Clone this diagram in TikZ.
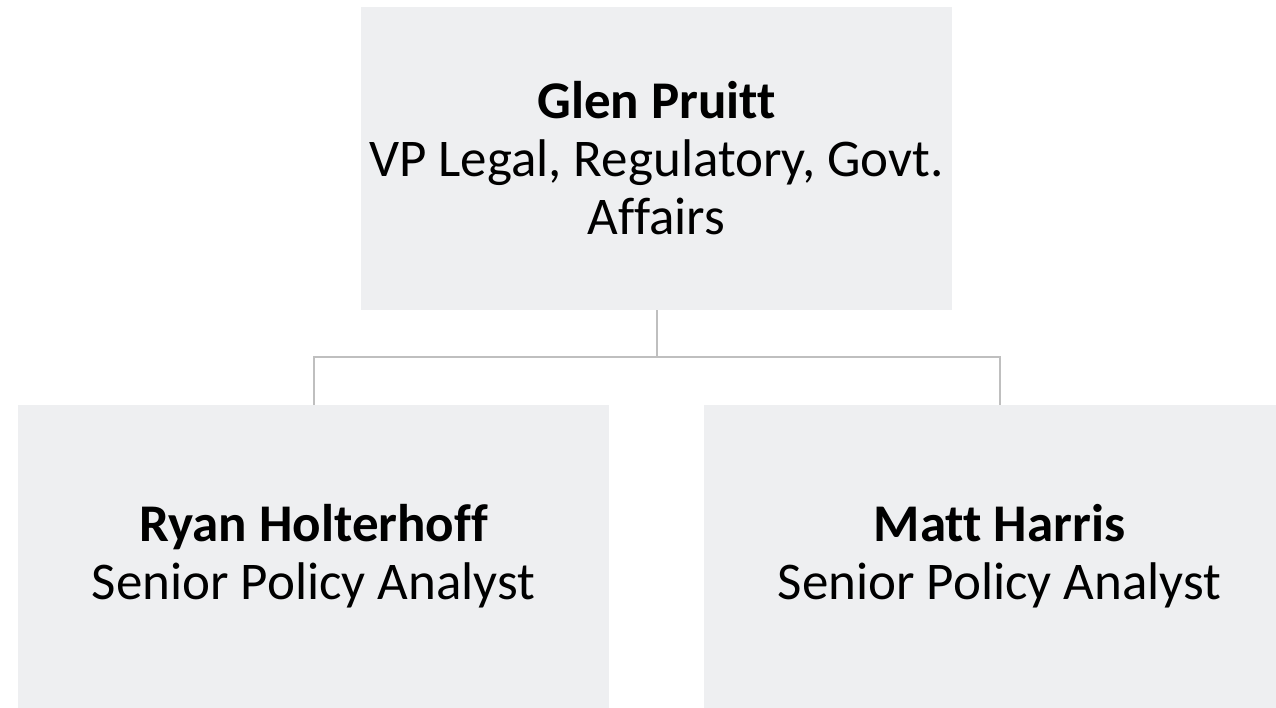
\documentclass[tikz,border=0pt]{standalone}
\usepackage{fontspec}
\setmainfont{Carlito}[Ligatures=NoCommon]
\usetikzlibrary{positioning}

\begin{document}
\begin{tikzpicture}[
		x=1pt,y=1pt,
		node distance=95pt and 95pt,
		person/.style={fill=boxgray,minimum width=591pt,minimum height=303pt,align=center,
			font=\fontsize{53pt}{58pt}\selectfont,inner sep=0pt},
		link/.style={draw=linegray,line width=2pt}
		]
		\definecolor{boxgray}{HTML}{EEEFF1}
		\definecolor{linegray}{HTML}{BFBFBF}
		\useasboundingbox (0,0) rectangle (1276,-708);
		\clip (0,0) rectangle (1276,-708);
		\node[person] (glen) at (656.5,-158.5) {\textbf{Glen Pruitt}\\VP Legal, Regulatory, Govt.\\Affairs};
		\node[person] (ryan) at (313.5,-556.5) {\textbf{Ryan Holterhoff}\\Senior Policy Analyst};
		\node[person] (matt) at (999.5,-556.5) {\textbf{Matt Harris}\\Senior Policy Analyst};
		\coordinate (split) at ([yshift=-47pt]glen.south);
		\draw[link] (glen.south) -- (split);
		\draw[link] (split) -| (ryan.north);
		\draw[link] (split) -| (matt.north);
	\end{tikzpicture}
\end{document}
